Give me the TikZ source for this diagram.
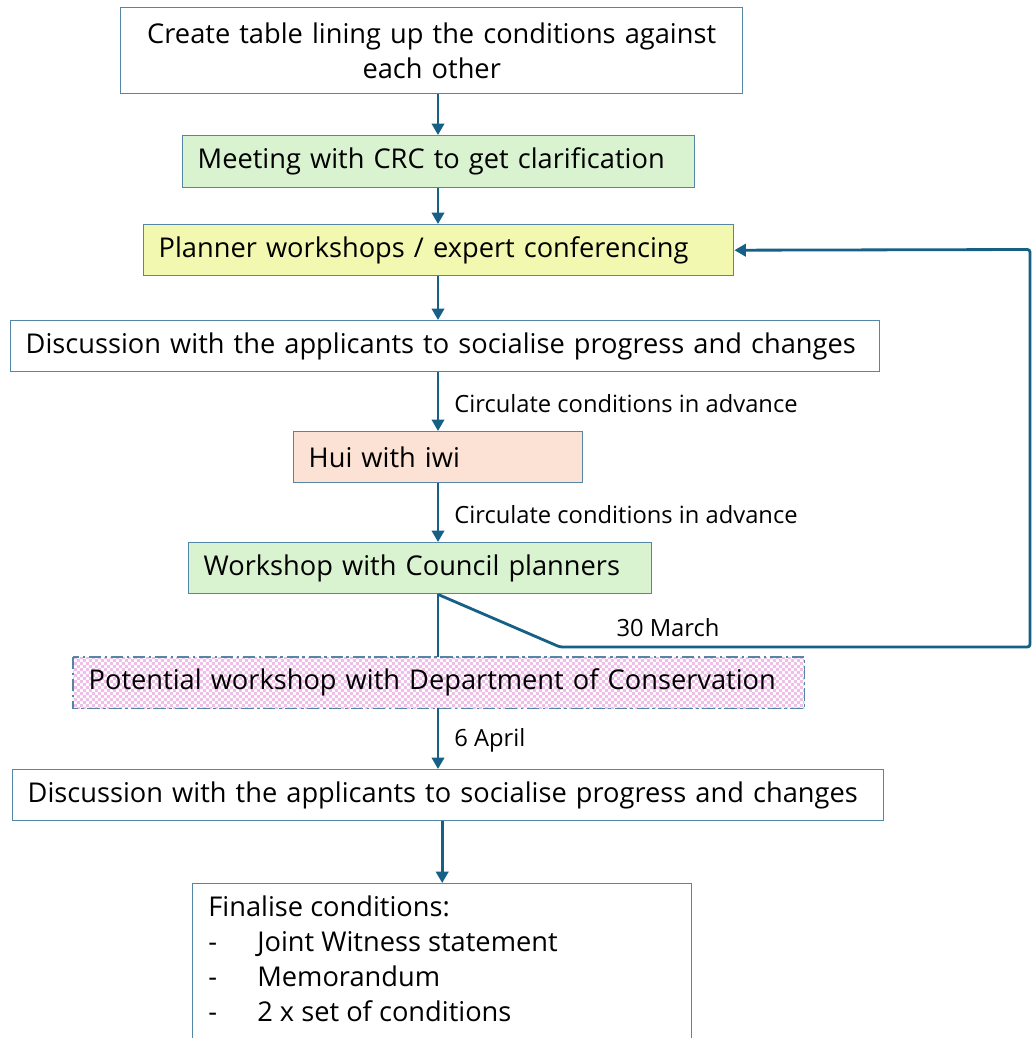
\documentclass[tikz,border=0pt]{standalone}
\usepackage{fontspec}
\setmainfont{Open Sans}
\usetikzlibrary{arrows.meta,patterns}
\definecolor{ln}{RGB}{23,96,133}
\definecolor{bd}{RGB}{84,134,166}
\definecolor{gfill}{RGB}{217,242,208}
\definecolor{yfill}{RGB}{243,248,176}
\definecolor{pfill}{RGB}{251,226,213}
\definecolor{pink}{RGB}{238,192,232}
\pgfdeclarepatternformonly{smallcheck}{\pgfpointorigin}{\pgfpoint{3.4pt}{3.4pt}}{\pgfpoint{3.4pt}{3.4pt}}{%
  \pgfpathrectangle{\pgfpointorigin}{\pgfpoint{1.7pt}{1.7pt}}%
  \pgfpathrectangle{\pgfpoint{1.7pt}{1.7pt}}{\pgfpoint{1.7pt}{1.7pt}}%
  \pgfusepath{fill}}
\begin{document}
\begin{tikzpicture}[x=0.02cm,y=-0.02cm,
  mainfont/.style={font=\fontsize{15.5}{20}\selectfont},
  box/.style={draw=bd, line width=0.8pt, anchor=north west, inner xsep=0.3cm, inner ysep=0pt, align=left, mainfont},
  conn/.style={draw=ln, line width=1.6pt},
  arr/.style={conn, -{Triangle[width=7pt,length=6.5pt]}},
  lbl/.style={font=\fontsize{13.5}{16}\selectfont, inner sep=0pt, text=black}]
\useasboundingbox (0,0) rectangle (1035,1038);
\clip (0,0) rectangle (1035,1038);
\fill[white] (0,0) rectangle (1035,1038);

\node[box, align=center, text width=592*0.02cm, minimum height=86*0.02cm] (b1) at (120,7)
  {Create table lining up the conditions against\\each other};
\node[box, fill=gfill, text width=482*0.02cm, minimum height=52*0.02cm] (b2) at (182,135)
  {Meeting with CRC to get clarification};
\node[box, fill=yfill, text width=560*0.02cm, minimum height=51*0.02cm] (b3) at (143,224)
  {Planner workshops / expert conferencing};
\node[box, text width=839*0.02cm, minimum height=51*0.02cm] (b4) at (10,320)
  {Discussion with the applicants to socialise progress and changes};
\node[box, fill=pfill, text width=259*0.02cm, minimum height=51*0.02cm] (b5) at (293,431)
  {Hui with iwi};
\node[box, fill=gfill, text width=433*0.02cm, minimum height=51*0.02cm] (b6) at (188,542)
  {Workshop with Council planners};
\node[box, draw=none, fill=white, text width=700*0.02cm, minimum height=50*0.02cm] (b7) at (73,657) {};
\fill[pattern=smallcheck, pattern color=pink] (b7.north west) rectangle (b7.south east);
\draw[bd, line width=0.8pt, dash pattern=on 7pt off 2pt on 1.5pt off 2pt] (b7.north west) rectangle (b7.south east);
\node[box, draw=none, text width=700*0.02cm, minimum height=50*0.02cm] (b7t) at (73,657)
  {Potential workshop with Department of Conservation};
\node[box, text width=841*0.02cm, minimum height=51*0.02cm] (b8) at (12,769)
  {Discussion with the applicants to socialise progress and changes};
\node[box, text width=469*0.02cm, minimum height=180*0.02cm] (b9) at (192,883) {};
\node[mainfont, anchor=north west, align=left, inner sep=0pt] (b9t) at (208,895)
  {Finalise conditions:\\
   \makebox[0.98cm][l]{-}Joint Witness statement\\
   \makebox[0.98cm][l]{-}Memorandum\\
   \makebox[0.98cm][l]{-}2 x set of conditions};

\coordinate (col) at (438,0);
\draw[arr] (col |- b1.south) -- (col |- b2.north);
\draw[arr] (col |- b2.south) -- (col |- b3.north);
\draw[arr] (col |- b3.south) -- (col |- b4.north);
\draw[arr] (col |- b4.south) -- node[lbl, anchor=west, xshift=15*0.02cm, yshift=-2*0.02cm] (l1) {Circulate conditions in advance} (col |- b5.north);
\draw[arr] (col |- b5.south) -- node[lbl, anchor=west, xshift=15*0.02cm, yshift=-2*0.02cm] (l2) {Circulate conditions in advance} (col |- b6.north);
\draw[conn] (col |- b6.south) -- (col |- b7.north);
\draw[arr] (col |- b7.south) -- node[lbl, anchor=west, xshift=15*0.02cm, yshift=-2*0.02cm] (l3) {6 April} (col |- b8.north);
\draw[arr] (b8.south -| b9.north) -- (b9.north);

\coordinate (k1) at (560,647);
\coordinate (k2) at (1030,647);
\coordinate (k3) at (1030,249.5);
\draw[arr, rounded corners=1.5pt] (col |- b6.south) -- (k1) -- (k2) -- (k3) -- (b3.east);
\node[lbl] (l4) at (668,628) {30 March};
\end{tikzpicture}
\end{document}
